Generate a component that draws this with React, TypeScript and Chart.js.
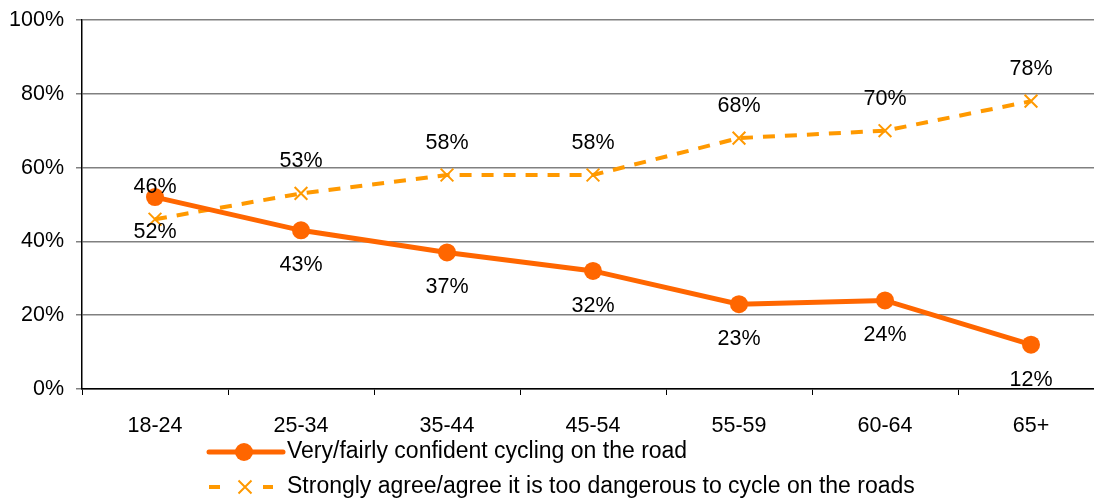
import React, { useEffect, useRef } from "react";
import { Chart, registerables } from "chart.js";

Chart.register(...registerables);

const categories = ["18-24", "25-34", "35-44", "45-54", "55-59", "60-64", "65+"];
const confident = [52, 43, 37, 32, 23, 24, 12];
const dangerous = [46, 53, 58, 58, 68, 70, 78];
const seriesNames = [
  "Very/fairly confident cycling on the road",
  "Strongly agree/agree it is too dangerous to cycle on the roads",
];
const yTicks = [0, 20, 40, 60, 80, 100];

const C1 = "#FF6600";
const C2 = "#FF9900";
const FONT = "Liberation Sans, Arial, sans-serif";
const AXIS_FONT = 21.5;
const LEGEND_FONT = 23;

const labelPlugin = {
  id: "customLabels",
  afterDatasetsDraw(chart: any) {
    const ctx = chart.ctx;
    ctx.save();
    ctx.font = `${AXIS_FONT}px ${FONT}`;
    ctx.fillStyle = "#000";
    ctx.textAlign = "center";
    ctx.textBaseline = "middle";
    const m0 = chart.getDatasetMeta(0);
    m0.data.forEach((pt: any, i: number) => {
      ctx.fillText(confident[i] + "%", pt.x, pt.y + 35);
    });
    const m1 = chart.getDatasetMeta(1);
    m1.data.forEach((pt: any, i: number) => {
      ctx.fillText(dangerous[i] + "%", pt.x, pt.y - 32);
    });

    // legend
    const x0 = 287;
    const y1 = 452;
    const y2 = 487;
    ctx.lineCap = "round";
    ctx.strokeStyle = C1;
    ctx.lineWidth = 5;
    ctx.beginPath();
    ctx.moveTo(209, y1);
    ctx.lineTo(283, y1);
    ctx.stroke();
    ctx.fillStyle = C1;
    ctx.beginPath();
    ctx.arc(244, y1, 9, 0, Math.PI * 2);
    ctx.fill();

    ctx.lineCap = "butt";
    ctx.strokeStyle = C2;
    ctx.lineWidth = 4;
    ctx.beginPath();
    ctx.moveTo(209, y2);
    ctx.lineTo(220, y2);
    ctx.moveTo(263, y2);
    ctx.lineTo(273, y2);
    ctx.stroke();
    ctx.lineWidth = 2;
    ctx.beginPath();
    const cx = 245;
    const r = 6.5;
    ctx.moveTo(cx - r, y2 - r);
    ctx.lineTo(cx + r, y2 + r);
    ctx.moveTo(cx + r, y2 - r);
    ctx.lineTo(cx - r, y2 + r);
    ctx.stroke();

    ctx.fillStyle = "#000";
    ctx.textAlign = "left";
    ctx.font = `${LEGEND_FONT}px ${FONT}`;
    ctx.fillText(seriesNames[0], x0, y1);
    ctx.fillText(seriesNames[1], x0, y2);
    ctx.restore();
  },
};

export default function App() {
  const ref = useRef<HTMLCanvasElement>(null);
  useEffect(() => {
    if (!ref.current) return;
    const chart = new Chart(ref.current, {
      type: "line",
      data: {
        labels: categories,
        datasets: [
          {
            label: seriesNames[0],
            data: confident,
            borderColor: C1,
            backgroundColor: C1,
            borderWidth: 5,
            pointRadius: 9,
            pointStyle: "circle",
            pointBackgroundColor: C1,
            pointBorderColor: C1,
            pointBorderWidth: 0,
            tension: 0,
            clip: false,
          },
          {
            label: seriesNames[1],
            data: dangerous,
            borderColor: C2,
            backgroundColor: "transparent",
            borderWidth: 4,
            borderDash: [12, 10],
            pointRadius: 9,
            pointStyle: "crossRot",
            pointBorderColor: C2,
            pointBorderWidth: 2,
            tension: 0,
            clip: false,
          },
        ],
      },
      options: {
        responsive: true,
        maintainAspectRatio: false,
        animation: false,
        layout: { autoPadding: false, padding: { top: 20, bottom: 60, left: 0, right: 0 } },
        plugins: { legend: { display: false }, tooltip: { enabled: false } },
        scales: {
          x: {
            offset: true,
            grid: {
              offset: true,
              drawOnChartArea: false,
              drawTicks: true,
              tickLength: 6,
              color: "#000",
            },
            border: { color: "#000", width: 1.5 },
            ticks: {
              font: { family: FONT, size: AXIS_FONT },
              color: "#000",
              padding: 18,
            },
            afterFit: (s: any) => {
              s.height = 50;
              s.paddingLeft = 0;
              s.paddingRight = 0;
            },
          },
          y: {
            min: 0,
            max: 100,
            afterBuildTicks: (s: any) => {
              s.ticks = yTicks.map((v) => ({ value: v }));
            },
            grid: { color: "#808080", lineWidth: 1.5, tickLength: 6 },
            border: { color: "#000", width: 1.5 },
            ticks: {
              font: { family: FONT, size: AXIS_FONT },
              color: "#000",
              padding: 12,
              callback: (v: any) => v + "%",
            },
            afterFit: (s: any) => {
              s.width = 82;
              s.paddingTop = 0;
              s.paddingBottom = 0;
            },
          },
        },
      },
      plugins: [labelPlugin],
    });
    return () => chart.destroy();
  }, []);
  return (
    <div
      style={{
        position: "fixed",
        left: 0,
        top: 0,
        width: 1094,
        height: 499,
        overflow: "hidden",
        background: "#fff",
      }}
    >
      <div style={{ position: "relative", width: 1104, height: 499 }}>
        <canvas ref={ref} style={{ display: "block" }} />
      </div>
    </div>
  );
}
